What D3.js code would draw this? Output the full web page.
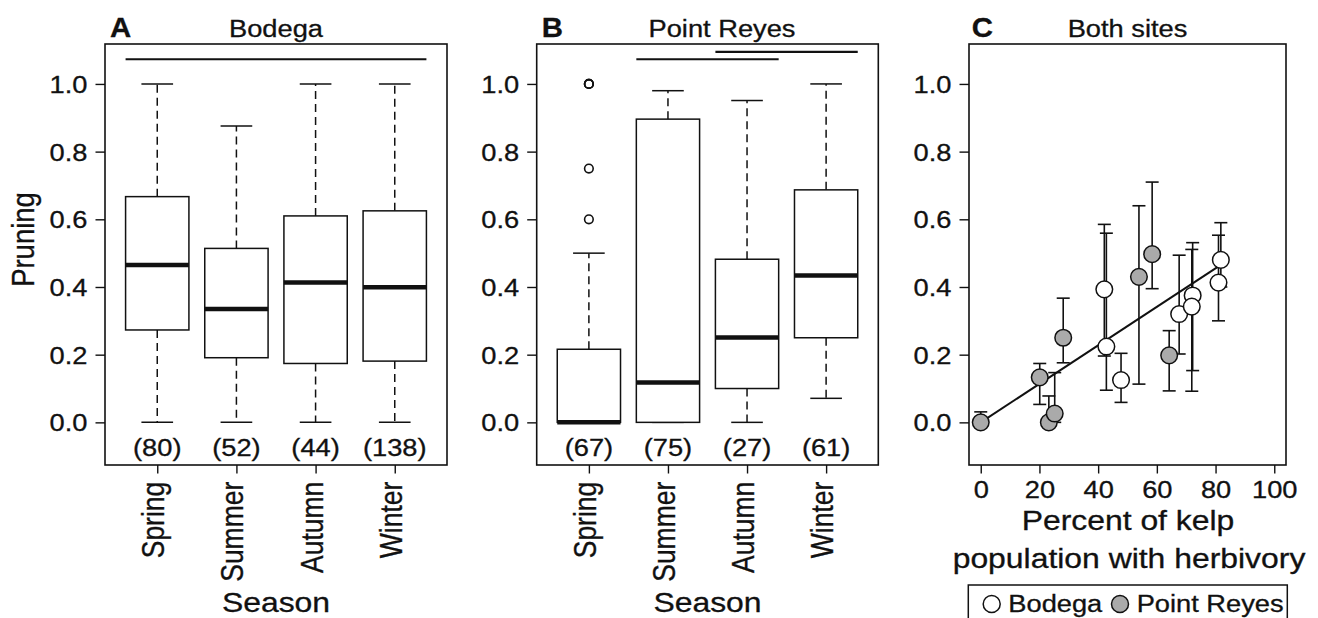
<!DOCTYPE html>
<html>
<head>
<meta charset="utf-8">
<script src="https://cdn.jsdelivr.net/npm/d3@7"></script>
<style>
  body { margin: 0; background: #fff; }
  svg { display: block; }
  text { font-family: "Liberation Sans", Arial, Helvetica, sans-serif; fill: #111; stroke: #111; stroke-width: 0.3px; }
</style>
</head>
<body>
<svg id="chart" width="1318" height="618"></svg>
<script>
// ---- Season boxplots ----
const seasons = ["Spring", "Summer", "Autumn", "Winter"];

// Bodega: whisker ends, quartiles, medians, sample sizes
const bodegaLow  = [0, 0, 0, 0];
const bodegaQ1   = [0.273, 0.191, 0.174, 0.181];
const bodegaMed  = [0.465, 0.335, 0.413, 0.399];
const bodegaQ3   = [0.667, 0.514, 0.610, 0.625];
const bodegaHigh = [1.0, 0.876, 1.0, 1.0];
const bodegaN    = [80, 52, 44, 138];

// Point Reyes
const reyesLow  = [0, 0, 0, 0.071];
const reyesQ1   = [0, 0, 0.100, 0.250];
const reyesMed  = [0, 0.118, 0.251, 0.434];
const reyesQ3   = [0.216, 0.896, 0.482, 0.687];
const reyesHigh = [0.5, 0.980, 0.951, 1.0];
const reyesN    = [67, 75, 27, 61];
const reyesOutlierSeason = [1, 1, 1, 1, 1];
const reyesOutlierValue  = [1.0, 1.0, 1.0, 0.75, 0.6];

// Groups not significantly different (season index from, to, bar height)
const bodegaBarFrom = [0.6];
const bodegaBarTo   = [4.4];
const bodegaBarY    = [1.073];
const reyesBarFrom  = [1.6, 2.6];
const reyesBarTo    = [3.4, 4.4];
const reyesBarY     = [1.073, 1.095];

// ---- Pruning vs herbivory ----
const bodegaHerb  = [42.1, 42.8, 47.8, 67.6, 72.2, 71.9, 81.8, 81.0];
const bodegaPrune = [0.393, 0.224, 0.125, 0.320, 0.375, 0.342, 0.480, 0.413];
const bodegaLo    = [0.196, 0.095, 0.059, 0.202, 0.153, 0.092, 0.400, 0.300];
const bodegaHi    = [0.585, 0.559, 0.204, 0.494, 0.531, 0.511, 0.590, 0.553];

const reyesHerb  = [0, 20.1, 28.1, 23.2, 25.2, 53.9, 58.4, 64.2];
const reyesPrune = [0, 0.133, 0.250, 0.0, 0.026, 0.430, 0.497, 0.198];
const reyesLo    = [0, 0.053, 0.176, 0.0, 0.0, 0.113, 0.395, 0.093];
const reyesHi    = [0.031, 0.174, 0.367, 0.078, 0.147, 0.640, 0.710, 0.271];

// Fitted line end points
const fitX = [0, 84];
const fitY = [0, 0.478];

const pruneTicks = [0, 0.2, 0.4, 0.6, 0.8, 1.0];
const herbTicks  = [0, 20, 40, 60, 80, 100];

// ---- Drawing ----
const svg = d3.select("#chart");
const SX = 1.16;           // horizontal text stretch
const FONT = 23.5;
const FONT_LAB = 27.5;
const INK = "#111";
const TOP = 44, BOTTOM = 465;

const y = d3.scaleLinear().domain([-0.126, 1.118]).range([BOTTOM, TOP]);

function label(g, x, yy, str, opts = {}) {
  const t = g.append("text")
    .attr("transform", `translate(${x},${yy}) scale(${opts.sx || SX},1)` + (opts.rotate ? ` rotate(${opts.rotate})` : ""))
    .attr("text-anchor", opts.anchor || "start")
    .attr("font-size", opts.size || FONT)
    .text(str);
  if (opts.bold) t.attr("font-weight", "bold");
  if (opts.dy) t.attr("dy", opts.dy);
  return t;
}

function yAxis(g, left) {
  const ax = g.append("g").attr("transform", `translate(${left},0)`)
    .call(d3.axisLeft(y).tickValues(pruneTicks).tickSize(9.5).tickFormat(d3.format(".1f")));
  ax.select(".domain").remove();
  ax.selectAll(".tick line").attr("stroke", INK).attr("stroke-width", 1.4);
  ax.selectAll(".tick text")
    .attr("x", null).attr("dy", "0.36em")
    .attr("transform", `translate(-17.5,0) scale(${SX},1)`)
    .attr("font-size", FONT).attr("font-family", null).attr("fill", INK);
}

function frame(g, left, right) {
  g.append("rect").attr("x", left).attr("y", TOP)
    .attr("width", right - left).attr("height", BOTTOM - TOP)
    .attr("fill", "none").attr("stroke", INK).attr("stroke-width", 1.6);
}

function boxPanel(opts) {
  const g = svg.append("g");
  const x = d3.scaleLinear().domain([0.34, 4.66]).range([opts.left, opts.right]);
  const unit = x(1) - x(0);
  const half = 0.4 * unit, cap = 0.2 * unit;

  seasons.forEach((s, i) => {
    const cx = x(i + 1);
    // whiskers
    [[opts.q3[i], opts.high[i]], [opts.q1[i], opts.low[i]]].forEach(([a, b]) => {
      if (a !== b) {
        g.append("line").attr("x1", cx).attr("x2", cx).attr("y1", y(a)).attr("y2", y(b))
          .attr("stroke", INK).attr("stroke-width", 1.5).attr("stroke-dasharray", "8,5");
      }
    });
    // staples
    [opts.high[i], opts.low[i]].forEach(v => {
      g.append("line").attr("x1", cx - cap).attr("x2", cx + cap).attr("y1", y(v)).attr("y2", y(v))
        .attr("stroke", INK).attr("stroke-width", 1.5);
    });
    // box
    g.append("rect").attr("x", cx - half).attr("width", 2 * half)
      .attr("y", y(opts.q3[i])).attr("height", y(opts.q1[i]) - y(opts.q3[i]))
      .attr("fill", "#fff").attr("stroke", INK).attr("stroke-width", 1.5);
    // median
    g.append("line").attr("x1", cx - half).attr("x2", cx + half)
      .attr("y1", y(opts.med[i])).attr("y2", y(opts.med[i]))
      .attr("stroke", INK).attr("stroke-width", 4.5);
    // sample size
    label(g, cx, 456, `(${opts.n[i]})`, { anchor: "middle" });
  });

  if (opts.outS) {
    opts.outS.forEach((s, k) => {
      g.append("circle").attr("cx", x(s)).attr("cy", y(opts.outV[k])).attr("r", 4.3)
        .attr("fill", "none").attr("stroke", INK).attr("stroke-width", 1.6);
    });
  }

  opts.barFrom.forEach((f, k) => {
    g.append("line").attr("x1", x(f)).attr("x2", x(opts.barTo[k]))
      .attr("y1", y(opts.barY[k])).attr("y2", y(opts.barY[k]))
      .attr("stroke", INK).attr("stroke-width", 2.2);
  });

  frame(g, opts.left, opts.right);
  yAxis(g, opts.left);

  // category axis
  const ax = g.append("g").attr("transform", `translate(0,${BOTTOM})`)
    .call(d3.axisBottom(x).tickValues([1, 2, 3, 4]).tickSize(8.5).tickFormat(d => seasons[d - 1]));
  ax.select(".domain").remove();
  ax.selectAll(".tick line").attr("stroke", INK).attr("stroke-width", 1.4);
  ax.selectAll(".tick text")
    .attr("y", null).attr("dy", null)
    .attr("transform", `translate(6.5,16.7) scale(${SX},1) rotate(-90)`)
    .attr("text-anchor", "end")
    .attr("font-size", 26.5).attr("font-family", null).attr("fill", INK);

  label(g, (opts.left + opts.right) / 2, 611.7, "Season", { anchor: "middle", size: FONT_LAB });
  label(g, opts.titleX, 36.5, opts.title, { anchor: "middle" });
  label(g, opts.letterX, 36.5, opts.letter, { bold: true, size: 28, sx: 1.05 });
}

boxPanel({
  left: 105, right: 447, title: "Bodega", titleX: 276, letter: "A", letterX: 110,
  low: bodegaLow, q1: bodegaQ1, med: bodegaMed, q3: bodegaQ3, high: bodegaHigh, n: bodegaN,
  barFrom: bodegaBarFrom, barTo: bodegaBarTo, barY: bodegaBarY
});

boxPanel({
  left: 536.7, right: 878.3, title: "Point Reyes", titleX: 722, letter: "B", letterX: 541.7,
  low: reyesLow, q1: reyesQ1, med: reyesMed, q3: reyesQ3, high: reyesHigh, n: reyesN,
  outS: reyesOutlierSeason, outV: reyesOutlierValue,
  barFrom: reyesBarFrom, barTo: reyesBarTo, barY: reyesBarY
});

label(svg, 34, 239.5, "Pruning", { anchor: "middle", size: FONT_LAB, rotate: -90 });

// ---- Panel C ----
(function () {
  const left = 969, right = 1286;
  const g = svg.append("g");
  const hx = d3.scaleLinear().domain([-4, 104]).range([left, right]);
  const capW = 6.5;

  function errorBars(xs, lo, hi) {
    xs.forEach((v, i) => {
      const cx = hx(v);
      g.append("line").attr("x1", cx).attr("x2", cx).attr("y1", y(lo[i])).attr("y2", y(hi[i]))
        .attr("stroke", INK).attr("stroke-width", 1.6);
      [lo[i], hi[i]].forEach(e => {
        g.append("line").attr("x1", cx - capW).attr("x2", cx + capW).attr("y1", y(e)).attr("y2", y(e))
          .attr("stroke", INK).attr("stroke-width", 1.6);
      });
    });
  }
  errorBars(reyesHerb, reyesLo, reyesHi);
  errorBars(bodegaHerb, bodegaLo, bodegaHi);

  g.append("line").attr("x1", hx(fitX[0])).attr("x2", hx(fitX[1]))
    .attr("y1", y(fitY[0])).attr("y2", y(fitY[1]))
    .attr("stroke", INK).attr("stroke-width", 2);

  function points(xs, ys, fill) {
    xs.forEach((v, i) => {
      g.append("circle").attr("cx", hx(v)).attr("cy", y(ys[i])).attr("r", 8.3)
        .attr("fill", fill).attr("stroke", INK).attr("stroke-width", 1.5);
    });
  }
  points(reyesHerb, reyesPrune, "#aaaaaa");
  points(bodegaHerb, bodegaPrune, "#ffffff");

  frame(g, left, right);
  yAxis(g, left);

  const ax = g.append("g").attr("transform", `translate(0,${BOTTOM})`)
    .call(d3.axisBottom(hx).tickValues(herbTicks).tickSize(8.5));
  ax.select(".domain").remove();
  ax.selectAll(".tick line").attr("stroke", INK).attr("stroke-width", 1.4);
  ax.selectAll(".tick text")
    .attr("y", null).attr("dy", null)
    .attr("transform", `translate(0,33) scale(${SX},1)`)
    .attr("font-size", FONT).attr("font-family", null).attr("fill", INK);

  const cxMid = (left + right) / 2;
  label(g, 1128, 530, "Percent of kelp", { anchor: "middle", size: FONT_LAB });
  label(g, 1129, 568, "population with herbivory", { anchor: "middle", size: FONT_LAB });
  label(g, cxMid, 36.5, "Both sites", { anchor: "middle" });
  label(g, 971.7, 36.5, "C", { bold: true, size: 28, sx: 1.05 });

  // legend
  const lg = svg.append("g");
  lg.append("rect").attr("x", 968.3).attr("y", 585).attr("width", 319).attr("height", 60)
    .attr("fill", "#fff").attr("stroke", INK).attr("stroke-width", 1.5);
  lg.append("circle").attr("cx", 991.7).attr("cy", 604).attr("r", 8.5)
    .attr("fill", "#fff").attr("stroke", INK).attr("stroke-width", 1.5);
  label(lg, 1008.3, 612, "Bodega");
  lg.append("circle").attr("cx", 1120).attr("cy", 604).attr("r", 8.5)
    .attr("fill", "#aaaaaa").attr("stroke", INK).attr("stroke-width", 1.5);
  label(lg, 1136.7, 612, "Point Reyes");
})();
</script>
</body>
</html>
